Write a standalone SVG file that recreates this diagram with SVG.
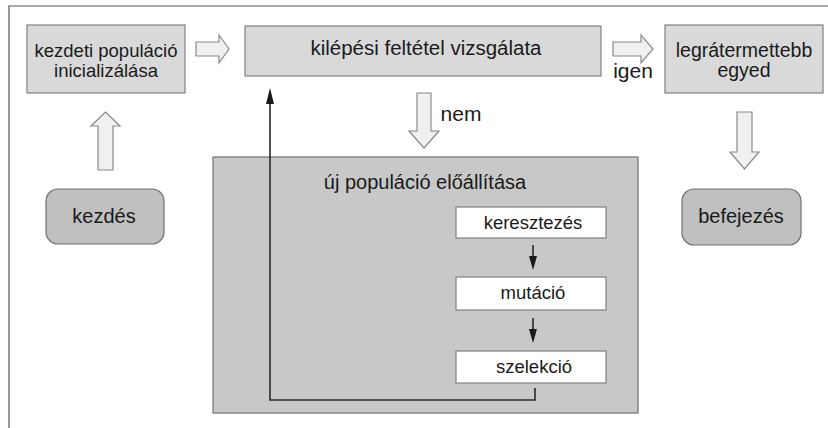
<svg xmlns="http://www.w3.org/2000/svg" width="828" height="428" viewBox="0 0 828 428">
<style>
  text { font-family: "Liberation Sans", Arial, sans-serif; fill: #1a1a1a; text-anchor: middle; }
  .box { fill: #d9d9d9; stroke: #808080; stroke-width: 1.2; }
  .round { fill: #c0c0c0; stroke: #707070; stroke-width: 1.2; }
  .big { fill: #c8c8c8; stroke: #707070; stroke-width: 1.2; }
  .inner { fill: #ffffff; stroke: #808080; stroke-width: 1.2; }
  .hollow { fill: #f0f0f0; stroke: #8a8a8a; stroke-width: 1.2; stroke-linejoin: miter; }
  .t185 { font-size: 18.5px; }
  .t19 { font-size: 19.5px; }
  .t20 { font-size: 20px; }
  .t21 { font-size: 21px; }
  .t18 { font-size: 18.5px; }
  .line { fill: none; stroke: #2a2a2a; stroke-width: 1.6; }
</style>
<rect width="828" height="428" fill="#ffffff"/>
<path d="M9,428 V6 H828" fill="none" stroke="#555555" stroke-width="1.2"/>

<g id="init">
  <rect class="box" x="27" y="25" width="158" height="68"/>
  <text class="t185" x="106" y="57">kezdeti populáció</text>
  <text class="t185" x="106" y="77">inicializálása</text>
</g>
<g id="check">
  <rect class="box" x="245" y="26" width="356" height="50"/>
  <text class="t19" x="426" y="55" textLength="231" lengthAdjust="spacingAndGlyphs">kilépési feltétel vizsgálata</text>
</g>
<g id="best">
  <rect class="box" x="665" y="25" width="158" height="68"/>
  <text class="t19" x="744" y="57">legrátermettebb</text>
  <text class="t19" x="744" y="77">egyed</text>
</g>
<g id="start">
  <rect class="round" x="46" y="189" width="118" height="55" rx="12"/>
  <text class="t20" x="104" y="223">kezdés</text>
</g>
<g id="end">
  <rect class="round" x="682" y="189" width="119" height="56" rx="12"/>
  <text class="t20" x="741" y="223">befejezés</text>
</g>
<g id="newpop">
  <rect class="big" x="213" y="157" width="425" height="256"/>
  <text class="t20" x="425" y="189">új populáció előállítása</text>
</g>
<g id="crossover">
  <rect class="inner" x="456" y="207" width="150" height="31"/>
  <text class="t18" x="533" y="229">keresztezés</text>
</g>
<g id="mutation">
  <rect class="inner" x="456" y="277" width="150" height="33"/>
  <text class="t18" x="533" y="299">mutáció</text>
</g>
<g id="selection">
  <rect class="inner" x="456" y="351" width="150" height="32"/>
  <text class="t18" x="534" y="373">szelekció</text>
</g>

<g id="connectors">
  <path class="hollow" d="M196,42 H219 V35 L229,49 L219,63 V56 H196 Z"/>
  <path class="hollow" d="M613,42 H641 V35 L653,49 L641,63 V56 H613 Z"/>
  <text class="t21" x="633" y="78">igen</text>
  <path class="hollow" d="M98,170 V126 H91 L105.5,112 L120,126 H113 V170 Z"/>
  <path class="hollow" d="M417,93 H431 V131 H439 L424,148 L409,131 H417 Z"/>
  <text class="t21" x="461" y="121">nem</text>
  <path class="hollow" d="M737,112 H752 V152 H759 L744.5,169 L730,152 H737 Z"/>
  <path class="line" d="M535,388 V400 H270 V100"/>
  <path d="M270,88 L266,104 L274,104 Z" fill="#1a1a1a"/>
  <line class="line" x1="533" y1="245" x2="533" y2="258"/>
  <path d="M529,256 L537,256 L533,270 Z" fill="#1a1a1a"/>
  <line class="line" x1="533" y1="318" x2="533" y2="331"/>
  <path d="M529,329 L537,329 L533,343 Z" fill="#1a1a1a"/>
</g>
</svg>
